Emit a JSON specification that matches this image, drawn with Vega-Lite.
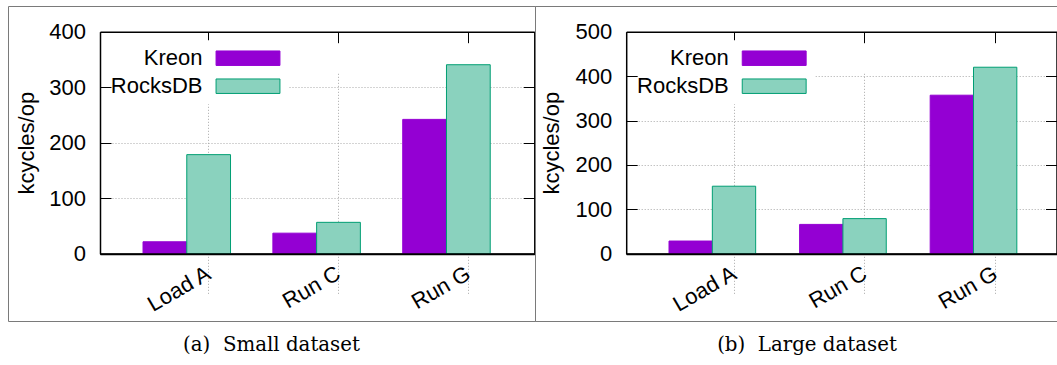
{
  "$schema": "https://vega.github.io/schema/vega-lite/v6.json",
  "padding": {"left": 7, "top": 5, "right": 0, "bottom": 0},
  "background": "white",
  "datasets": {
    "small": [
      {"workload": "Load A", "db": "Kreon", "kcycles": 21.5},
      {"workload": "Load A", "db": "RocksDB", "kcycles": 178.5},
      {"workload": "Run C", "db": "Kreon", "kcycles": 37},
      {"workload": "Run C", "db": "RocksDB", "kcycles": 56.5},
      {"workload": "Run G", "db": "Kreon", "kcycles": 242},
      {"workload": "Run G", "db": "RocksDB", "kcycles": 340.5}
    ],
    "large": [
      {"workload": "Load A", "db": "Kreon", "kcycles": 28.5},
      {"workload": "Load A", "db": "RocksDB", "kcycles": 152},
      {"workload": "Run C", "db": "Kreon", "kcycles": 66},
      {"workload": "Run C", "db": "RocksDB", "kcycles": 79},
      {"workload": "Run G", "db": "Kreon", "kcycles": 357},
      {"workload": "Run G", "db": "RocksDB", "kcycles": 420}
    ]
  },
  "config": {
    "view": {"stroke": "#7a7a7a", "strokeWidth": 1},
    "font": "Liberation Sans",
    "axis": {
      "domainColor": "black",
      "domainWidth": 1.5,
      "tickColor": "black",
      "tickWidth": 1,
      "labelColor": "black",
      "labelFont": "Liberation Sans",
      "labelFontSize": 22,
      "titleFont": "Liberation Sans",
      "titleFontSize": 22,
      "titleFontWeight": "normal",
      "titleColor": "black",
      "gridColor": "#a8a8a8",
      "gridDash": [1, 2],
      "gridWidth": 1,
      "labelOverlap": false,
      "labelFlush": false
    }
  },
  "spacing": 0,
  "bounds": "flush",
  "resolve": {
    "scale": {"x": "independent", "y": "independent", "xOffset": "independent", "color": "independent", "stroke": "independent"},
    "legend": {"color": "independent", "stroke": "independent"}
  },
  "hconcat": [
    {
      "width": 527,
      "height": 315,
      "data": {"name": "small"},
      "title": {"text": "(a)\u00a0 Small dataset", "orient": "bottom", "anchor": "middle", "frame": "group", "baseline": "alphabetic", "offset": 30, "font": "DejaVu Serif", "fontSize": 19.8, "fontWeight": "normal", "color": "black"},
      "layer": [
        {
          "mark": {"type": "bar", "strokeWidth": 1},
          "encoding": {
            "x": {"field": "workload", "type": "nominal", "sort": ["Load A", "Run C", "Run G"],
              "scale": {"range": [92, 526.3], "paddingInner": 0.3262, "paddingOuter": 0.3354, "align": 0.494},
              "axis": {"orient": "bottom", "offset": -67.3, "title": null, "bandPosition": 0.75, "labelAngle": -30, "labelAlign": "right", "labelBaseline": "top", "labelOffset": 17, "labelPadding": 20, "tickSize": -11, "grid": true, "zindex": 0}},
            "xOffset": {"field": "db", "sort": ["Kreon", "RocksDB"], "scale": {"paddingInner": 0, "paddingOuter": 0}},
            "y": {"field": "kcycles", "type": "quantitative",
              "scale": {"domain": [0, 400], "range": [247.7, 25.7], "nice": false},
              "axis": {"orient": "left", "offset": -92, "values": [0, 100, 200, 300, 400], "title": "kcycles/op", "tickSize": -11, "labelPadding": 25.5, "titlePadding": 10, "grid": true, "zindex": 0}},
            "color": {"field": "db", "type": "nominal",
              "scale": {"domain": ["Kreon", "RocksDB"], "range": ["#9400d3", "#8ad2be"]},
              "legend": {"orient": "none", "legendX": 104, "legendY": 34.2, "title": null, "direction": "vertical", "labelFont": "Liberation Sans", "labelFontSize": 22, "labelColor": "black", "labelAlign": "right", "labelOffset": -56.5, "symbolOffset": 118, "symbolType": "M-4.41,-1H4.41V1H-4.41Z", "symbolSize": 210, "symbolStrokeWidth": 1, "rowPadding": 6, "padding": 7, "fillColor": "white", "labelLimit": 0, "zindex": 1}},
            "stroke": {"field": "db", "type": "nominal",
              "scale": {"domain": ["Kreon", "RocksDB"], "range": ["#9400d3", "#009e73"]},
              "legend": {"orient": "none", "legendX": 104, "legendY": 34.2, "title": null, "direction": "vertical", "labelFont": "Liberation Sans", "labelFontSize": 22, "labelColor": "black", "labelAlign": "right", "labelOffset": -56.5, "symbolOffset": 118, "symbolType": "M-4.41,-1H4.41V1H-4.41Z", "symbolSize": 210, "symbolStrokeWidth": 1, "rowPadding": 6, "padding": 7, "fillColor": "white", "labelLimit": 0, "zindex": 1}}
          }
        },
        {
          "mark": {"type": "point", "opacity": 0},
          "encoding": {
            "x": {"field": "workload", "type": "nominal", "sort": ["Load A", "Run C", "Run G"],
              "axis": {"orient": "top", "offset": -25.7, "bandPosition": 0.75, "labels": false, "title": null, "tickSize": -11, "grid": false, "zindex": 1}},
            "y": {"field": "kcycles", "type": "quantitative",
              "axis": {"orient": "right", "offset": -0.7, "labels": false, "title": null, "values": [0, 100, 200, 300, 400], "tickSize": -11, "grid": false, "zindex": 1}}
          }
        },
        {
          "mark": {"type": "point", "opacity": 0},
          "encoding": {
            "x": {"field": "workload", "type": "nominal", "sort": ["Load A", "Run C", "Run G"],
              "axis": {"orient": "bottom", "offset": -67.3, "labels": false, "ticks": false, "title": null, "grid": false, "domainWidth": 2, "zindex": 1}}
          }
        }
      ],
      "resolve": {"axis": {"x": "independent", "y": "independent"}}
    },
    {
      "width": 522,
      "height": 315,
      "data": {"name": "large"},
      "title": {"text": "(b)\u00a0 Large dataset", "orient": "bottom", "anchor": "middle", "frame": "group", "baseline": "alphabetic", "offset": 30, "dx": 11, "font": "DejaVu Serif", "fontSize": 19.8, "fontWeight": "normal", "color": "black"},
      "layer": [
        {
          "mark": {"type": "bar", "strokeWidth": 1},
          "encoding": {
            "x": {"field": "workload", "type": "nominal", "sort": ["Load A", "Run C", "Run G"],
              "scale": {"range": [91.2, 522], "paddingInner": 0.3364, "paddingOuter": 0.3177, "align": 0.516},
              "axis": {"orient": "bottom", "offset": -67.3, "title": null, "bandPosition": 0.75, "labelAngle": -30, "labelAlign": "right", "labelBaseline": "top", "labelOffset": 17, "labelPadding": 20, "tickSize": -11, "grid": true, "zindex": 0}},
            "xOffset": {"field": "db", "sort": ["Kreon", "RocksDB"], "scale": {"paddingInner": 0, "paddingOuter": 0}},
            "y": {"field": "kcycles", "type": "quantitative",
              "scale": {"domain": [0, 500], "range": [247.7, 25.7], "nice": false},
              "axis": {"orient": "left", "offset": -91.2, "values": [0, 100, 200, 300, 400, 500], "title": "kcycles/op", "tickSize": -11, "labelPadding": 25.5, "titlePadding": 11, "grid": true, "zindex": 0}},
            "color": {"field": "db", "type": "nominal",
              "scale": {"domain": ["Kreon", "RocksDB"], "range": ["#9400d3", "#8ad2be"]},
              "legend": {"orient": "none", "legendX": 103.2, "legendY": 34.2, "title": null, "direction": "vertical", "labelFont": "Liberation Sans", "labelFontSize": 22, "labelColor": "black", "labelAlign": "right", "labelOffset": -56.5, "symbolOffset": 118, "symbolType": "M-4.41,-1H4.41V1H-4.41Z", "symbolSize": 210, "symbolStrokeWidth": 1, "rowPadding": 6, "padding": 7, "fillColor": "white", "labelLimit": 0, "zindex": 1}},
            "stroke": {"field": "db", "type": "nominal",
              "scale": {"domain": ["Kreon", "RocksDB"], "range": ["#9400d3", "#009e73"]},
              "legend": {"orient": "none", "legendX": 103.2, "legendY": 34.2, "title": null, "direction": "vertical", "labelFont": "Liberation Sans", "labelFontSize": 22, "labelColor": "black", "labelAlign": "right", "labelOffset": -56.5, "symbolOffset": 118, "symbolType": "M-4.41,-1H4.41V1H-4.41Z", "symbolSize": 210, "symbolStrokeWidth": 1, "rowPadding": 6, "padding": 7, "fillColor": "white", "labelLimit": 0, "zindex": 1}}
          }
        },
        {
          "mark": {"type": "point", "opacity": 0},
          "encoding": {
            "x": {"field": "workload", "type": "nominal", "sort": ["Load A", "Run C", "Run G"],
              "axis": {"orient": "top", "offset": -25.7, "bandPosition": 0.75, "labels": false, "title": null, "tickSize": -11, "grid": false, "zindex": 1}},
            "y": {"field": "kcycles", "type": "quantitative",
              "axis": {"orient": "right", "offset": -0.5, "labels": false, "title": null, "values": [0, 100, 200, 300, 400, 500], "tickSize": -11, "grid": false, "zindex": 1}}
          }
        },
        {
          "mark": {"type": "point", "opacity": 0},
          "encoding": {
            "x": {"field": "workload", "type": "nominal", "sort": ["Load A", "Run C", "Run G"],
              "axis": {"orient": "bottom", "offset": -67.3, "labels": false, "ticks": false, "title": null, "grid": false, "domainWidth": 2, "zindex": 1}}
          }
        }
      ],
      "resolve": {"axis": {"x": "independent", "y": "independent"}}
    }
  ]
}
